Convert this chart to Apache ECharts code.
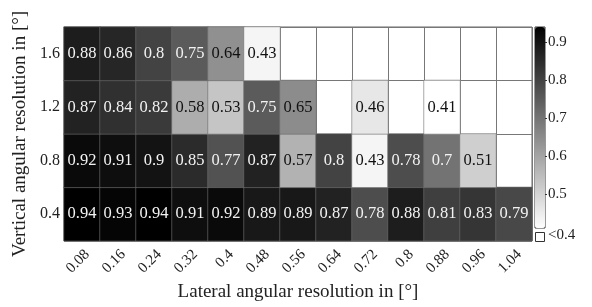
<!DOCTYPE html>
<html>
<head>
<meta charset="utf-8">
<script src="https://cdn.jsdelivr.net/npm/echarts@6/dist/echarts.min.js"></script>
<style>
  html, body { margin: 0; padding: 0; background: #fff; }
  #main { width: 592px; height: 307px; }
</style>
</head>
<body>
<div id="main"></div>
<script>
// lateral resolution (x) and vertical resolution (y)
var lateral = ['0.08', '0.16', '0.24', '0.32', '0.4', '0.48', '0.56', '0.64', '0.72', '0.8', '0.88', '0.96', '1.04'];
var vertical = ['0.4', '0.8', '1.2', '1.6'];

// null = below 0.4 (drawn as empty white cell)
var row04 = [0.94, 0.93, 0.94, 0.91, 0.92, 0.89, 0.89, 0.87, 0.78, 0.88, 0.81, 0.83, 0.79];
var row08 = [0.92, 0.91, 0.9, 0.85, 0.77, 0.87, 0.57, 0.8, 0.43, 0.78, 0.7, 0.51, null];
var row12 = [0.87, 0.84, 0.82, 0.58, 0.53, 0.75, 0.65, null, 0.46, null, 0.41, null, null];
var row16 = [0.88, 0.86, 0.8, 0.75, 0.64, 0.43, null, null, null, null, null, null, null];

var rows = [row04, row08, row12, row16];
var colorMin = 0.41, colorMax = 0.94;

var font = '"Liberation Serif", "DejaVu Serif", serif';

var data = [];
rows.forEach(function (row, j) {
    row.forEach(function (v, i) {
        if (v === null) return;
        data.push({
            value: [i, j, v],
            label: { color: v > 0.66 ? '#f2f2f2' : '#111' }
        });
    });
});

var myChart = echarts.init(document.getElementById('main'));
myChart.setOption({
    animation: false,
    backgroundColor: '#fff',
    grid: [
        { left: 64, top: 27, width: 468, height: 216, show: true, borderColor: '#666', borderWidth: 1, backgroundColor: '#fff' },
        // colour bar axis
        { left: 535, top: 27, width: 10, height: 201, show: true, borderColor: '#333', borderWidth: 1 }
    ],
    xAxis: [{
        type: 'category',
        data: lateral,
        gridIndex: 0,
        axisLine: { show: false },
        axisTick: { show: false },
        splitLine: { show: true, interval: 0, lineStyle: { color: '#777', width: 1 } },
        axisLabel: { rotate: 45, margin: 6, verticalAlign: 'top', fontFamily: font, fontSize: 15, color: '#222', interval: 0 },
        name: 'Lateral angular resolution in [°]',
        nameLocation: 'middle',
        nameGap: 40,
        nameTextStyle: { fontFamily: font, fontSize: 19, color: '#222' }
    }, {
        type: 'category',
        gridIndex: 1,
        data: [''],
        show: false
    }],
    yAxis: [{
        type: 'category',
        data: vertical,
        gridIndex: 0,
        axisLine: { show: false },
        axisTick: { show: false },
        splitLine: { show: true, interval: 0, lineStyle: { color: '#777', width: 1 } },
        axisLabel: { margin: 4, fontFamily: font, fontSize: 16, color: '#222' },
        name: 'Vertical angular resolution in [°]',
        nameLocation: 'middle',
        nameGap: 26,
        nameTextStyle: { fontFamily: font, fontSize: 19, color: '#222' }
    }, {
        type: 'value',
        gridIndex: 1,
        position: 'right',
        min: colorMin,
        max: colorMax,
        splitLine: { show: false },
        axisLine: { show: false },
        axisTick: { show: true, inside: false, length: 2, lineStyle: { color: '#333' } },
        axisLabel: { margin: 3, fontFamily: font, fontSize: 15, color: '#222', showMinLabel: false, showMaxLabel: false }
    }],
    visualMap: {
        type: 'continuous',
        min: colorMin,
        max: colorMax,
        seriesIndex: 0,
        calculable: false,
        left: 535,
        top: 27,
        padding: 0,
        itemWidth: 10,
        itemHeight: 201,
        text: null,
        inRange: { color: ['#ffffff', '#000000'] }
    },
    graphic: [
        { type: 'rect', left: 535, top: 232, shape: { width: 9, height: 9 }, style: { fill: '#fff', stroke: '#333', lineWidth: 1 } },
        { type: 'text', left: 548, top: 228, style: { text: '<0.4', font: '15px ' + font, fill: '#222' } }
    ],
    series: [{
        type: 'heatmap',
        xAxisIndex: 0,
        yAxisIndex: 0,
        data: data,
        itemStyle: { borderColor: 'rgba(110,110,110,0.6)', borderWidth: 1 },
        label: { show: true, fontFamily: font, fontSize: 16.5 },
        emphasis: { disabled: true }
    }]
});
</script>
</body>
</html>
